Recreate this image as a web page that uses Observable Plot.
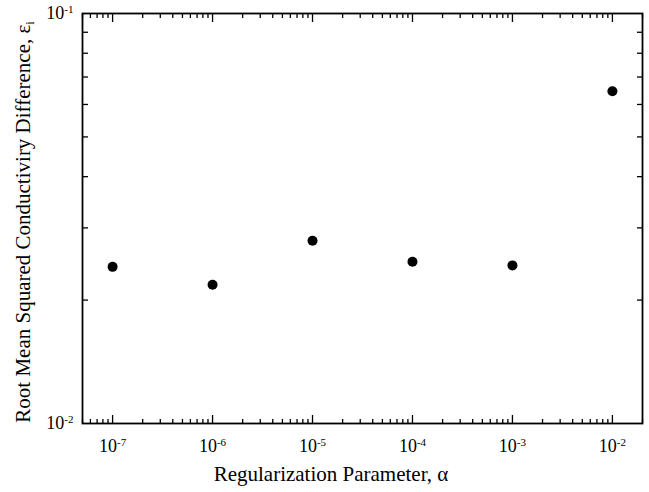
<!DOCTYPE html>
<html><head><meta charset="utf-8">
<script src="https://cdn.jsdelivr.net/npm/d3@7"></script>
<script src="https://cdn.jsdelivr.net/npm/@observablehq/plot@0.6"></script>
<style>body{margin:0;background:#fff}</style>
</head><body><div id="chart"></div>
<script>
// Data
const alphas = [1e-7, 1e-6, 1e-5, 1e-4, 1e-3, 1e-2];
const rmsd = [0.0241, 0.0218, 0.0279, 0.0248, 0.0243, 0.0646];
const xMajor = [1e-7, 1e-6, 1e-5, 1e-4, 1e-3, 1e-2];
const yMajor = [0.01, 0.1];
const xMinorMult = [2, 3, 4, 5, 6, 7, 8, 9];
const yMinor = [0.02, 0.03, 0.04, 0.05, 0.06, 0.07, 0.08, 0.09];
const xLabel = "Regularization Parameter, \u03b1";
const yLabel = "Root Mean Squared Conductiviry Difference, \u03b5";
const yLabelSub = "i";

const xDomain = [5e-8, 2e-2];
const xMinor = [];
for (let e = -8; e <= -2; e++) for (const m of xMinorMult) {
  const v = m * Math.pow(10, e);
  if (v >= xDomain[0] * 0.999 && v <= xDomain[1] * 1.001) xMinor.push(v);
}
const pts = alphas.map((a, i) => ({alpha: a, rmsd: rmsd[i]}));
const expFmt = d => "10|" + Math.round(Math.log10(d));
const none = () => "";
const SERIF = "'Liberation Serif', 'Times New Roman', serif";

const W = 649, H = 492;
const chart = Plot.plot({
  width: W, height: H,
  marginLeft: 82, marginRight: 7, marginTop: 13, marginBottom: 69,
  style: {fontFamily: SERIF, fontSize: "18px", color: "black", background: "white"},
  x: {type: "log", domain: xDomain},
  y: {type: "log", domain: [0.01, 0.1]},
  marks: [
    Plot.axisX(xMajor, {anchor: "bottom", tickSize: -8, tickPadding: 24, tickFormat: expFmt, strokeWidth: 1.3, fontSize: 18, label: null}),
    Plot.axisX(xMajor, {anchor: "top", tickSize: -8, tickFormat: none, strokeWidth: 1.3, label: null}),
    Plot.axisX(xMinor, {anchor: "bottom", tickSize: -4, tickFormat: none, strokeWidth: 1.3, label: null}),
    Plot.axisX(xMinor, {anchor: "top", tickSize: -4, tickFormat: none, strokeWidth: 1.3, label: null}),
    Plot.axisY(yMajor, {anchor: "left", tickSize: 0, tickPadding: 9, tickFormat: expFmt, fontSize: 18, label: null}),
    Plot.axisY(yMinor, {anchor: "left", tickSize: -6, tickFormat: none, strokeWidth: 1.3, label: null}),
    Plot.axisY(yMinor, {anchor: "right", tickSize: -6, tickFormat: none, strokeWidth: 1.3, label: null}),
    Plot.frame({stroke: "black", strokeWidth: 1.8}),
    Plot.dot(pts, {x: "alpha", y: "rmsd", r: 5, fill: "black", stroke: "none"})
  ]
});
document.getElementById("chart").appendChild(chart);

// Convert "10|e" labels to 10 with superscript
const svg = d3.select(chart);
svg.selectAll("text").each(function() {
  const t = this.textContent;
  if (!t.includes("|")) return;
  const [b, e] = t.split("|");
  const el = d3.select(this);
  el.text(null).style("font-size", "18px").style("font-family", SERIF);
  el.append("tspan").text(b);
  el.append("tspan").style("font-size", "11px").attr("dy", "-0.6em").text(e);
});

// Axis titles
svg.append("text")
  .attr("x", 331).attr("y", 481)
  .attr("text-anchor", "middle")
  .style("font-family", SERIF)
  .style("font-size", "21px")
  .attr("fill", "black")
  .text(xLabel);
const yl = svg.append("text")
  .attr("transform", "translate(30,222) rotate(-90)")
  .attr("text-anchor", "middle")
  .style("font-family", SERIF)
  .style("font-size", "21px")
  .attr("fill", "black");
yl.append("tspan").text(yLabel);
yl.append("tspan").style("font-size", "12px").attr("dy", "0.35em").text(yLabelSub);
</script>
</body></html>
